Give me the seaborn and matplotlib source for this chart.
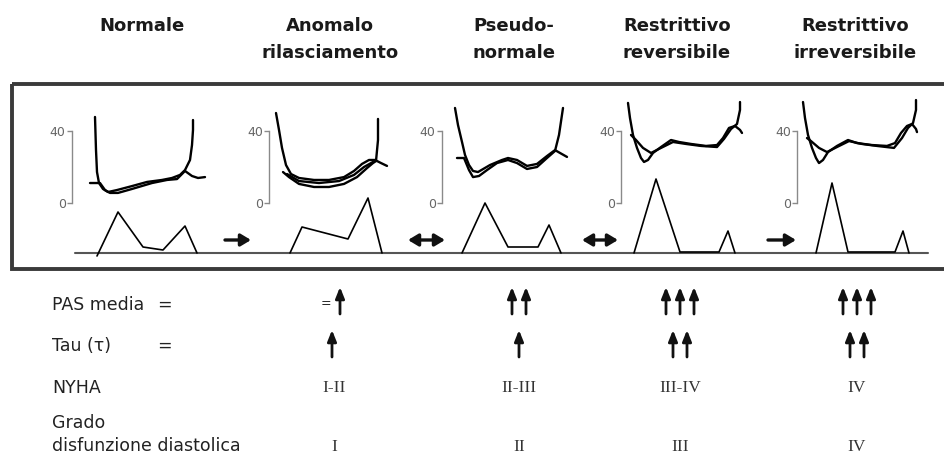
import numpy as np
import pandas as pd
import seaborn as sns
import matplotlib.pyplot as plt
from matplotlib.patches import Rectangle

# --- dati ---
titoli_1 = ["Normale", "Anomalo", "Pseudo-", "Restrittivo", "Restrittivo"]
titoli_2 = ["", "rilasciamento", "normale", "reversibile", "irreversibile"]

# pressione ventricolare (t relativo, mmHg), due/tre battiti sovrapposti per pannello
press = {
    0: [([23, 24, 25, 27, 31, 36, 45, 60, 75, 90, 100, 108, 113, 118, 120, 121, 121],
         [47.8, 29.4, 17.2, 11.1, 7.8, 6.1, 7.2, 9.4, 11.7, 12.8, 13.9, 15.6, 18.3, 23.9, 32.2, 40.6, 46.1]),
        ([18, 28, 33, 38, 46, 60, 80, 95, 105, 113, 120, 126, 133],
         [11.1, 11.1, 7.2, 5.6, 5.6, 7.8, 11.1, 12.8, 13.3, 17.8, 15.0, 13.9, 14.4])],
    1: [([7, 10, 13, 17, 22, 30, 45, 60, 75, 85, 93, 100, 106, 112, 118],
         [50.0, 40.6, 30.6, 21.1, 16.1, 13.9, 12.8, 12.8, 14.4, 17.8, 21.7, 23.9, 23.9, 22.2, 20.6]),
        ([14, 20, 30, 45, 60, 75, 88, 98, 104, 107, 109, 109],
         [17.2, 14.4, 10.6, 8.9, 8.9, 10.6, 14.4, 19.4, 22.2, 23.3, 35.0, 46.7]),
        ([18, 30, 50, 70, 85, 95, 104],
         [16.1, 12.2, 11.1, 12.2, 15.6, 20.0, 22.8])],
    2: [([13, 16, 20, 23, 27, 31, 36, 48, 60, 66, 75, 85, 95, 105, 113, 118, 125],
         [52.8, 43.3, 33.9, 26.7, 21.1, 17.8, 17.2, 21.1, 23.9, 25.0, 23.9, 20.6, 21.7, 26.1, 29.4, 27.8, 25.6]),
        ([15, 22, 27, 31, 37, 45, 55, 66, 75, 85, 95, 105, 113, 117, 121],
         [25.0, 25.0, 18.3, 14.4, 15.0, 18.3, 22.2, 23.9, 22.2, 18.9, 20.0, 25.0, 28.9, 37.8, 52.8])],
    3: [([7, 9, 12, 16, 20, 23, 27, 32, 40, 50, 58, 70, 85, 96, 102, 108, 114, 119, 121],
         [55.6, 47.2, 37.8, 30.6, 25.0, 22.8, 23.9, 27.8, 31.1, 35.0, 33.9, 32.8, 31.7, 32.2, 36.1, 41.7, 42.8, 40.6, 38.9]),
        ([10, 15, 22, 30, 40, 52, 65, 80, 96, 103, 110, 116, 119, 119],
         [37.8, 35.0, 30.6, 27.8, 30.6, 33.9, 32.8, 31.7, 31.1, 35.6, 41.1, 43.9, 51.7, 56.1])],
    4: [([6, 8, 11, 15, 19, 22, 26, 31, 40, 51, 60, 75, 90, 98, 104, 110, 115, 119, 120],
         [56.1, 47.2, 37.8, 30.6, 25.0, 22.2, 23.9, 28.3, 31.7, 35.0, 33.3, 32.2, 31.7, 33.3, 38.9, 42.8, 43.9, 41.1, 39.4]),
        ([10, 14, 22, 30, 40, 52, 65, 80, 97, 105, 111, 116, 119, 119],
         [36.1, 34.4, 30.6, 28.3, 31.1, 34.4, 32.8, 31.7, 30.6, 36.1, 41.7, 44.4, 51.7, 57.2])],
}

# flusso mitralico (t relativo, velocita' relativa)
doppler_t = [[25, 46, 71, 91, 113, 125],
             [21, 33, 79, 99, 113],
             [20, 43, 66, 96, 107, 119],
             [13, 35, 59, 98, 107, 114],
             [19, 35, 51, 98, 106, 112]]
doppler_v = [[-3, 41, 6, 3, 27, 0],
             [0, 26, 14, 55, 0],
             [0, 50, 6, 6, 28, 0],
             [0, 74, 1, 1, 22, 0],
             [0, 70, 1, 1, 22, 0]]

righe = ["PAS media", "Tau (\u03c4)", "NYHA", "Grado\ndisfunzione diastolica"]
pas_frecce = [1, 2, 3, 3]
tau_frecce = [1, 1, 2, 2]
nyha = ["I-II", "II-III", "III-IV", "IV"]
grado = ["I", "II", "III", "IV"]

# --- layout (pixel) ---
W, H = 944, 457
barre_x = [72, 269, 442, 621, 797]
titoli_x = [142, 330, 514, 677, 855]
colonne_x = [334, 519, 680, 857]

sns.set_theme(style="white")
plt.rcParams['font.family'] = ['DejaVu Sans']

fig = plt.figure(figsize=(W / 100, H / 100), dpi=100)
bg = fig.add_axes([0, 0, 1, 1])
bg.set_xlim(0, W)
bg.set_ylim(H, 0)
bg.axis('off')


def px_axes(x0, y0, w, h):
    a = fig.add_axes([x0 / W, 1 - (y0 + h) / H, w / W, h / H])
    a.set_facecolor('none')
    return a


# titoli
for i in range(5):
    bg.text(titoli_x[i], 26, titoli_1[i], ha='center', va='center',
            fontsize=13, fontweight='bold', color='#1a1a1a')
    if titoli_2[i]:
        bg.text(titoli_x[i], 53, titoli_2[i], ha='center', va='center',
                fontsize=13, fontweight='bold', color='#1a1a1a')

# riquadro
bg.add_patch(Rectangle((12, 84), 960, 185, fill=False, lw=2.8, edgecolor='#3a3a3a'))
# linea di base doppler
bg.plot([75, 928], [253, 253], color='#555555', lw=1.5)

# frecce tra pannelli
for x0, x1, stile in [(225, 251, '-|>'), (408, 445, '<|-|>'), (582, 618, '<|-|>'), (768, 796, '-|>')]:
    bg.annotate('', xy=(x1, 240), xytext=(x0, 240),
                arrowprops=dict(arrowstyle=stile + ',head_length=0.5,head_width=0.3',
                                lw=2.4, color='#111111', shrinkA=0, shrinkB=0,
                                mutation_scale=12))

# pannelli pressione + doppler
P0, PX = 203, 1.8
ymin, ymax = -2, 62
for i, bx in enumerate(barre_x):
    top = P0 - ymax * PX
    ax = px_axes(bx, top, 140, (ymax - ymin) * PX)
    ax.set_xlim(0, 140)
    ax.set_ylim(ymin, ymax)
    for t, p in press[i]:
        df = pd.DataFrame({'t': t, 'p': p})
        sns.lineplot(data=df, x='t', y='p', ax=ax, sort=False, estimator=None,
                     color='black', lw=1.7)
    for s in ['top', 'right', 'bottom']:
        ax.spines[s].set_visible(False)
    ax.spines['left'].set_bounds(0, 40)
    ax.spines['left'].set_color('#8a8a8a')
    ax.spines['left'].set_linewidth(1.0)
    ax.set_yticks([0, 40])
    ax.set_xticks([])
    ax.tick_params(axis='y', left=True, direction='out', length=3.5, width=1.0,
                   color='#8a8a8a', labelsize=9, labelcolor='#666666', pad=1)
    ax.set_xlabel('')
    ax.set_ylabel('')

    ad = px_axes(bx, 253 - 80, 140, 85)
    ad.set_xlim(0, 140)
    ad.set_ylim(-5, 80)
    dfd = pd.DataFrame({'t': doppler_t[i], 'v': doppler_v[i]})
    sns.lineplot(data=dfd, x='t', y='v', ax=ad, sort=False, estimator=None,
                 color='black', lw=1.2)
    ad.axis('off')

# tabella in basso
testo = dict(fontsize=12.5, color='#222222', va='center', ha='left')
bg.text(52, 305, "PAS media", **testo)
bg.text(157, 305, "=", **testo)
bg.text(52, 346, righe[1], **testo)
bg.text(157, 346, "=", **testo)
bg.text(52, 388, righe[2], **testo)
bg.text(52, 423, "Grado", **testo)
bg.text(52, 446, "disfunzione diastolica", **testo)


def frecce(cx, n, y0, y1, passo=14):
    for k in range(n):
        x = cx + (k - (n - 1) / 2) * passo
        bg.annotate('', xy=(x, y0), xytext=(x, y1),
                    arrowprops=dict(arrowstyle='-|>,head_length=0.55,head_width=0.22',
                                    lw=2.0, color='#111111', shrinkA=0, shrinkB=0,
                                    mutation_scale=12))


for j, cx in enumerate(colonne_x):
    if j == 0:
        bg.text(cx - 8, 304, "=", fontsize=9, color='#222222', ha='center', va='center')
        frecce(cx + 6, pas_frecce[j], 287, 314)
        frecce(cx - 2, tau_frecce[j], 330, 357)
    else:
        frecce(cx, pas_frecce[j], 287, 314)
        frecce(cx, tau_frecce[j], 330, 357)
    bg.text(cx, 388, nyha[j], family=['Liberation Serif', 'DejaVu Serif'],
            fontsize=12.5, color='#333333', ha='center', va='center')
    bg.text(cx, 447, grado[j], family=['Liberation Serif', 'DejaVu Serif'],
            fontsize=12.5, color='#333333', ha='center', va='center')

fig.savefig('out.png', dpi=100)
